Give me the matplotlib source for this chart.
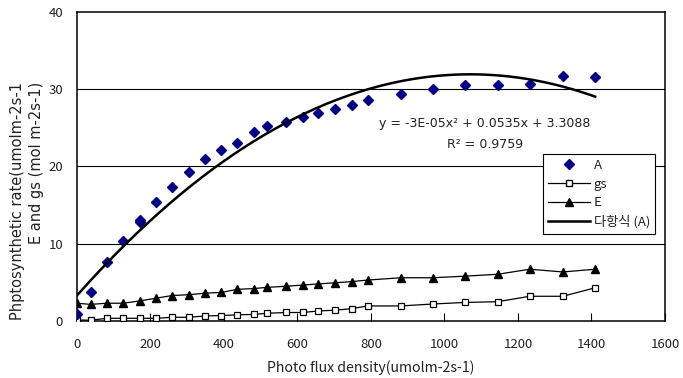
import numpy as np
import matplotlib
matplotlib.use("Agg")
import matplotlib.pyplot as plt
from matplotlib.lines import Line2D

plt.rcParams['font.family'] = ['Noto Sans CJK KR', 'DejaVu Sans']

# light levels (PPFD)
ppfd = [0, 37, 82, 126, 171, 215, 259, 305, 348, 393, 436, 482, 516, 570,
        614, 657, 703, 748, 791, 882, 968, 1055, 1145, 1232, 1322, 1410]

# photosynthetic rate A (one extra reading at 171)
a_x = ppfd[:5] + [171] + ppfd[5:]
a_val = [0.9, 3.7, 7.6, 10.4, 12.8, 13.1, 15.4, 17.4, 19.3, 21.0, 22.1, 23.1,
         24.5, 25.3, 25.8, 26.4, 26.9, 27.5, 28.0, 28.6, 29.4, 30.0, 30.5,
         30.6, 30.7, 31.7, 31.6]

gs_val = [0.13, 0.1, 0.35, 0.35, 0.35, 0.35, 0.48, 0.48, 0.65, 0.7, 0.8, 0.85,
          1.0, 1.1, 1.1, 1.3, 1.4, 1.6, 1.95, 1.95, 2.2, 2.4, 2.5, 3.2, 3.2, 4.3]

e_val = [2.3, 2.15, 2.3, 2.3, 2.6, 2.95, 3.3, 3.4, 3.6, 3.7, 4.1, 4.2, 4.35,
         4.5, 4.65, 4.8, 4.95, 5.1, 5.3, 5.6, 5.6, 5.8, 6.05, 6.7, 6.35, 6.7]

# trend line coefficients from the chart label (x^2 term is shown rounded as -3E-05)
trend_coef = [-2.5e-5, 0.0535, 3.3088]

eq_text = "y = -3E-05x² + 0.0535x + 3.3088"
r2_text = "R² = 0.9759"

fig = plt.figure(figsize=(6.83, 3.78), dpi=100)
ax = fig.add_axes([0.1127, 0.1508, 0.8609, 0.8175])

txt = '#222222'
latin = ['DejaVu Sans', 'Noto Sans CJK KR']

# grid lines only at 10,20,30 like the excel chart
for g in [10, 20, 30]:
    ax.axhline(g, color='black', lw=0.8, zorder=1)

ax.plot(ppfd, gs_val, color='black', lw=0.9, marker='s', ms=4.8,
        mfc='white', mec='black', mew=0.9, zorder=3)
ax.plot(ppfd, e_val, color='black', lw=0.9, marker='^', ms=6.2,
        mfc='black', mec='black', zorder=3)
ax.plot(a_x, a_val, ls='none', marker='D', ms=5.4, color='#000080', zorder=4)

xs = np.linspace(0, max(ppfd), 200)
ax.plot(xs, np.polyval(trend_coef, xs), color='black', lw=1.8, zorder=5)

ax.text(1110, 25.6, eq_text, ha='center', va='center', fontsize=9,
        color=txt, family=latin)
ax.text(1110, 22.8, r2_text, ha='center', va='center', fontsize=9,
        color=txt, family=latin)

ax.set_xlim(0, 1600)
ax.set_ylim(0, 40)
ax.set_xticks(range(0, 1601, 200))
ax.set_yticks([0, 10, 20, 30, 40])
ax.tick_params(axis='x', direction='in', length=6, width=0.8, colors='black',
               labelcolor=txt, labelsize=9.5, pad=12)
ax.tick_params(axis='y', length=0, labelcolor=txt, labelsize=9.5, pad=10)
for s in ax.spines.values():
    s.set_linewidth(1.1)
    s.set_color('black')

ax.set_xlabel("Photo flux density(umolm-2s-1)", fontsize=10.2, color=txt, labelpad=7)
fig.text(18 / 683, 1 - 82 / 378, "Phptosynthetic rate(umolm-2s-1", rotation=90,
         ha='center', va='top', fontsize=10.5, color=txt, family=latin)
fig.text(37 / 683, 1 - 82 / 378, "E and gs (mol m-2s-1)", rotation=90,
         ha='center', va='top', fontsize=10.5, color=txt, family=latin)

handles = [
    Line2D([], [], ls='none', marker='D', ms=5.4, color='#000080'),
    Line2D([], [], color='black', lw=0.9, marker='s', ms=4.8, mfc='white', mec='black'),
    Line2D([], [], color='black', lw=0.9, marker='^', ms=6.2),
    Line2D([], [], color='black', lw=1.8),
]
labels = ['A', 'gs', 'E', '다항식 (A)']
leg = ax.legend(handles, labels, loc='upper left',
                bbox_to_anchor=((543 - 77) / 588, 1 - (154 - 12) / 309),
                fontsize=9.5, frameon=True, fancybox=False, framealpha=1,
                edgecolor='black', borderpad=0.35, labelspacing=0.45,
                handlelength=3.2, handletextpad=0.3, borderaxespad=0)
leg.get_frame().set_linewidth(0.8)
for t in leg.get_texts():
    t.set_color(txt)
leg.set_zorder(10)

fig.savefig("out.png", dpi=100)
